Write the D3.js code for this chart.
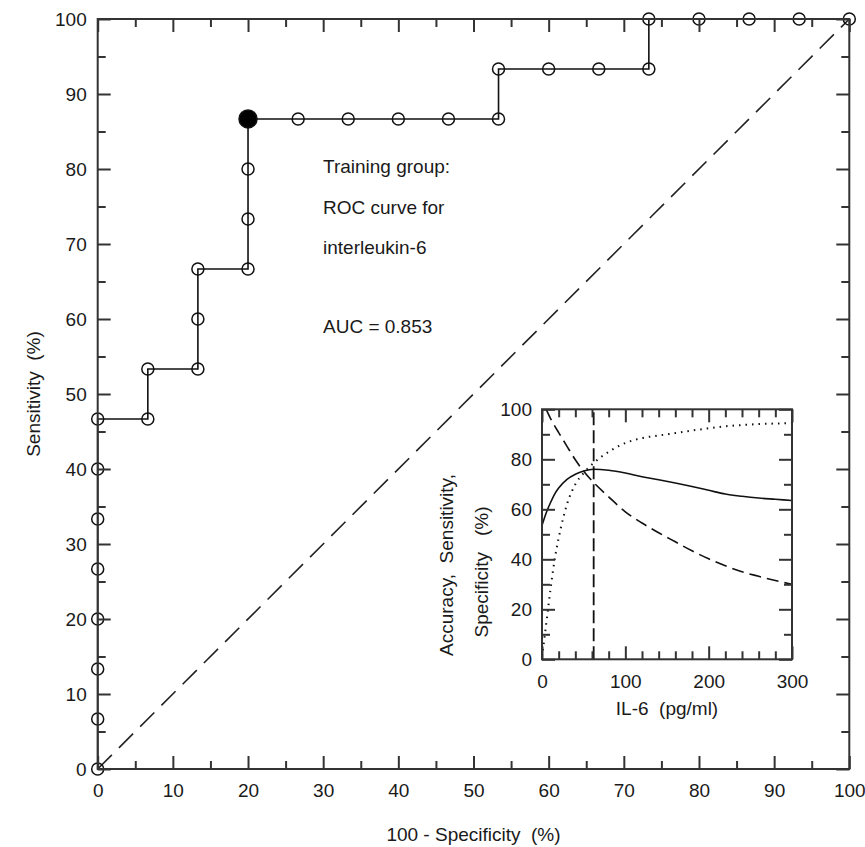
<!DOCTYPE html>
<html>
<head>
<meta charset="utf-8">
<script src="https://cdn.jsdelivr.net/npm/d3@7"></script>
<style>
    body { margin: 0; background: #fff; }
    svg { display: block; font-family: "Liberation Sans", Arial, sans-serif; }
    .axis text { font-size: 19px; fill: #1a1a1a; }
    .axis line { stroke: #333; stroke-width: 2; }
    .axis path.domain { display: none; }
    .label { font-size: 19px; fill: #1a1a1a; white-space: pre; }
</style>
</head>
<body>
<script>

// Data /////////////////////////////////////////

// ROC points (100 - specificity, sensitivity)
const rocFpr = [0, 0, 0, 0, 0, 0, 0, 0, 6.67, 6.67, 13.33, 13.33, 13.33, 20, 20, 20, 20,
    26.67, 33.33, 40, 46.67, 53.33, 53.33, 60, 66.67, 73.33, 73.33, 80, 86.67, 93.33, 100];
const rocTpr = [0, 6.67, 13.33, 20, 26.67, 33.33, 40, 46.67, 46.67, 53.33, 53.33, 60, 66.67, 66.67, 73.33, 80, 86.67,
    86.67, 86.67, 86.67, 86.67, 86.67, 93.33, 93.33, 93.33, 93.33, 100, 100, 100, 100, 100];
const cutoffIndex = 16;
const auc = 0.853;

// Inset: accuracy / sensitivity / specificity against IL-6
const il6 = [0, 5, 10, 15, 20, 30, 40, 50, 62, 80, 100, 120, 140, 160, 180, 200, 220, 240, 260, 280, 300];
const accuracy = [53.5, 58.5, 62.5, 66, 68.5, 72, 74, 75.3, 76, 75.6, 74.5, 73, 71.8, 70.5, 69.1, 67.6, 66.1, 65.2, 64.5, 64, 63.5];
const sensitivity = [1, 14, 27.5, 39.5, 48.5, 62, 70, 74.5, 78.5, 83, 86.5, 88.5, 89.5, 90.5, 91.5, 92.4, 93.2, 93.7, 94.1, 94.3, 94.5];
const specificity = [null, 100, 96.5, 93.5, 90.7, 85.2, 79.8, 75.2, 70.7, 65, 59, 54.5, 50.6, 47, 43.4, 40.2, 37.4, 35, 33.2, 31.5, 30];
const optimalCutoff = 62;

// Ticks
const mainMajor = [0, 10, 20, 30, 40, 50, 60, 70, 80, 90, 100];
const mainMinor = [5, 15, 25, 35, 45, 55, 65, 75, 85, 95];
const insetXMajor = [0, 100, 200, 300];
const insetXMinor = [20, 40, 60, 80, 120, 140, 160, 180, 220, 240, 260, 280];
const insetYMajor = [0, 20, 40, 60, 80, 100];
const insetYMinor = [10, 30, 50, 70, 90];

// Layout ///////////////////////////////////////

const width = 865, height = 847;
const main = { left: 97.7, right: 849.3, top: 19, bottom: 769 };
const inset = { left: 542, right: 792, top: 409.3, bottom: 659.3 };

const svg = d3.select("body").append("svg")
    .attr("width", width)
    .attr("height", height);

// Axes helper //////////////////////////////////

function addFrame(g, x, y, box, xMajor, xMinor, yMajor, yMinor, pad) {

    const major = 13, minor = 8;

    g.append("g").attr("class", "axis")
        .attr("transform", `translate(0,${box.bottom})`)
        .call(d3.axisBottom(x).tickValues(xMajor).tickSize(-major).tickPadding(pad.x));
    g.append("g").attr("class", "axis")
        .attr("transform", `translate(0,${box.bottom})`)
        .call(d3.axisBottom(x).tickValues(xMinor).tickSize(-minor).tickFormat(""));
    g.append("g").attr("class", "axis")
        .attr("transform", `translate(0,${box.top})`)
        .call(d3.axisTop(x).tickValues(xMajor).tickSize(-major).tickFormat(""));
    g.append("g").attr("class", "axis")
        .attr("transform", `translate(0,${box.top})`)
        .call(d3.axisTop(x).tickValues(xMinor).tickSize(-minor).tickFormat(""));

    g.append("g").attr("class", "axis")
        .attr("transform", `translate(${box.left},0)`)
        .call(d3.axisLeft(y).tickValues(yMajor).tickSize(-major).tickPadding(pad.y));
    g.append("g").attr("class", "axis")
        .attr("transform", `translate(${box.left},0)`)
        .call(d3.axisLeft(y).tickValues(yMinor).tickSize(-minor).tickFormat(""));
    g.append("g").attr("class", "axis")
        .attr("transform", `translate(${box.right},0)`)
        .call(d3.axisRight(y).tickValues(yMajor).tickSize(-major).tickFormat(""));
    g.append("g").attr("class", "axis")
        .attr("transform", `translate(${box.right},0)`)
        .call(d3.axisRight(y).tickValues(yMinor).tickSize(-minor).tickFormat(""));

    g.append("rect")
        .attr("x", box.left)
        .attr("y", box.top)
        .attr("width", box.right - box.left)
        .attr("height", box.bottom - box.top)
        .attr("fill", "none")
        .attr("stroke", "#333")
        .attr("stroke-width", 2);
}

// Main ROC chart ///////////////////////////////

const x = d3.scaleLinear().domain([0, 100]).range([main.left, main.right]);
const y = d3.scaleLinear().domain([0, 100]).range([main.bottom, main.top]);

const mainG = svg.append("g");

// chance diagonal
mainG.append("line")
    .attr("x1", x(0)).attr("y1", y(0))
    .attr("x2", x(100)).attr("y2", y(100))
    .attr("stroke", "#222")
    .attr("stroke-width", 1.6)
    .attr("stroke-dasharray", "20,10");

const roc = rocFpr.map((f, i) => ({ fpr: f, tpr: rocTpr[i] }));

mainG.append("path")
    .datum(roc)
    .attr("fill", "none")
    .attr("stroke", "#111")
    .attr("stroke-width", 1.6)
    .attr("d", d3.line().x(d => x(d.fpr)).y(d => y(d.tpr)));

mainG.selectAll("circle.roc")
    .data(roc)
    .join("circle")
    .attr("class", "roc")
    .attr("cx", d => x(d.fpr))
    .attr("cy", d => y(d.tpr))
    .attr("r", (d, i) => i === cutoffIndex ? 9 : 6)
    .attr("fill", (d, i) => i === cutoffIndex ? "#000" : "none")
    .attr("stroke", "#111")
    .attr("stroke-width", 1.5);

addFrame(mainG, x, y, main, mainMajor, mainMinor, mainMajor, mainMinor, { x: 14.5, y: 11 });

// titles
mainG.append("text")
    .attr("class", "label")
    .attr("x", (main.left + main.right) / 2)
    .attr("y", 841)
    .attr("text-anchor", "middle")
    .text("100 - Specificity  (%)");

mainG.append("text")
    .attr("class", "label")
    .attr("transform", `translate(40,${(main.top + main.bottom) / 2}) rotate(-90)`)
    .attr("text-anchor", "middle")
    .text("Sensitivity  (%)");

// annotation
const note = ["Training group:", "ROC curve for", "interleukin-6"];
mainG.selectAll("text.note")
    .data(note)
    .join("text")
    .attr("class", "label note")
    .attr("x", 323)
    .attr("y", (d, i) => 173 + i * 40.5)
    .text(d => d);
mainG.append("text")
    .attr("class", "label")
    .attr("x", 323)
    .attr("y", 333)
    .text(`AUC = ${auc}`);

// Inset ////////////////////////////////////////

const xi = d3.scaleLinear().domain([0, 300]).range([inset.left, inset.right]);
const yi = d3.scaleLinear().domain([0, 100]).range([inset.bottom, inset.top]);

const insetG = svg.append("g");

insetG.append("rect")
    .attr("x", inset.left)
    .attr("y", inset.top)
    .attr("width", inset.right - inset.left)
    .attr("height", inset.bottom - inset.top)
    .attr("fill", "#fff");

const curve = (vals) => d3.line()
    .defined((d, i) => vals[i] !== null)
    .x((d, i) => xi(il6[i]))
    .y((d, i) => yi(vals[i]))
    .curve(d3.curveMonotoneX);

insetG.append("path")
    .datum(il6)
    .attr("fill", "none")
    .attr("stroke", "#111")
    .attr("stroke-width", 1.6)
    .attr("d", curve(accuracy));

insetG.append("path")
    .datum(il6)
    .attr("fill", "none")
    .attr("stroke", "#111")
    .attr("stroke-width", 1.6)
    .attr("stroke-dasharray", "12,6")
    .attr("d", curve(specificity));

insetG.append("path")
    .datum(il6)
    .attr("fill", "none")
    .attr("stroke", "#111")
    .attr("stroke-width", 2)
    .attr("stroke-dasharray", "1.5,5")
    .attr("d", curve(sensitivity));

insetG.append("line")
    .attr("x1", xi(optimalCutoff)).attr("y1", yi(0))
    .attr("x2", xi(optimalCutoff)).attr("y2", yi(100))
    .attr("stroke", "#111")
    .attr("stroke-width", 1.8)
    .attr("stroke-dasharray", "13,5");

addFrame(insetG, xi, yi, inset, insetXMajor, insetXMinor, insetYMajor, insetYMinor, { x: 15.5, y: 10 });

insetG.append("text")
    .attr("class", "label")
    .attr("x", (inset.left + inset.right) / 2)
    .attr("y", 715)
    .attr("text-anchor", "middle")
    .text("IL-6  (pg/ml)");

// two-line rotated title: [text, x baseline, y centre]
const insetTitle = ["Accuracy,  Sensitivity,", "Specificity   (%)"];
const insetTitlePos = [[453, 565], [488, 572]];
insetG.selectAll("text.ititle")
    .data(insetTitle)
    .join("text")
    .attr("class", "label ititle")
    .attr("transform", (d, i) => `translate(${insetTitlePos[i][0]},${insetTitlePos[i][1]}) rotate(-90)`)
    .attr("text-anchor", "middle")
    .text(d => d);

</script>
</body>
</html>
